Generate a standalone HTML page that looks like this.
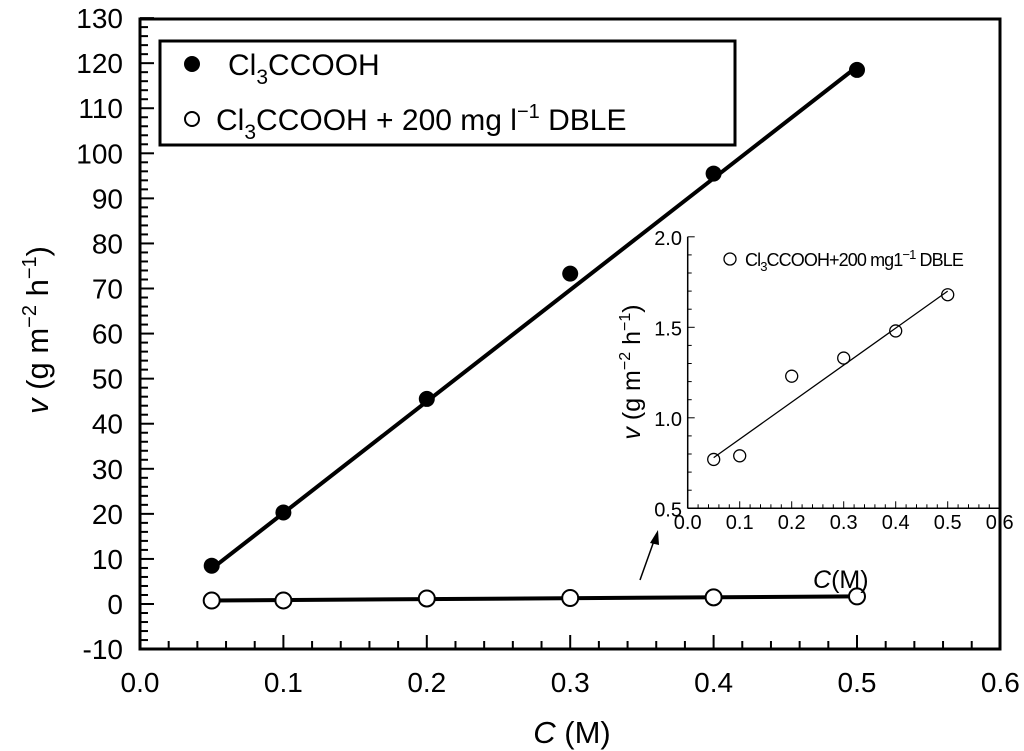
<!DOCTYPE html>
<html><head><meta charset="utf-8"><style>
body{margin:0;background:#fff}
svg{display:block;font-family:"Liberation Sans",sans-serif}
</style></head><body>
<svg id="c" width="1024" height="751" viewBox="0 0 1024 751"></svg>
<script>
const xs=[0.05,0.1,0.2,0.3,0.4,0.5];
const filledV=[8.5,20.3,45.5,73.3,95.5,118.5];
const openV=[0.77,0.79,1.23,1.33,1.48,1.68];
const fitFilled=[7.8,119.2];
const fitOpen=[0.78,1.70];
const xTicks=[0.0,0.1,0.2,0.3,0.4,0.5,0.6];
const yTicks=[-10,0,10,20,30,40,50,60,70,80,90,100,110,120,130];
const inXTicks=[0.0,0.1,0.2,0.3,0.4,0.5,0.6];
const inYTicks=[0.5,1.0,1.5,2.0];

const S=document.getElementById('c');const NS='http://www.w3.org/2000/svg';
function mk(t,a,txt){const e=document.createElementNS(NS,t);for(const k in a)e.setAttribute(k,a[k]);if(txt!==undefined)e.textContent=txt;S.appendChild(e);return e;}
const X=v=>140+v/0.1*143.4, Y=v=>604-v*4.507;
const iX=v=>687.7+v/0.1*52, iY=v=>508.3-(v-0.5)/0.5*90.5;

let e=mk('rect',{x:140,y:19,width:1000-140,height:649-19,fill:'none',stroke:'#000','stroke-width':3});

for(let v=-10;v<=130.01;v+=2){const maj=Math.abs(v%10)<0.01;mk('line',{x1:140,x2:140+(maj?14:8),y1:Y(v),y2:Y(v),stroke:'#000','stroke-width':2});}
for(let v=0;v<=0.6001;v+=0.02){const maj=Math.abs(Math.round(v*100)%10)<0.5;mk('line',{x1:X(v),x2:X(v),y1:649,y2:649-(maj?14:8),stroke:'#000','stroke-width':2});}
yTicks.forEach(v=>{e=mk('text',{x:123,y:Y(v)+10,'text-anchor':'end','font-size':28},String(v));});
xTicks.forEach(v=>{e=mk('text',{x:X(v),y:692,'text-anchor':'middle','font-size':28},v.toFixed(1));});
e=mk('text',{x:572,y:743,'text-anchor':'middle','font-size':31});e.innerHTML='<tspan font-style="italic">C</tspan> (M)';

e=mk('text',{transform:'translate(48,330) rotate(-90)','text-anchor':'middle','font-size':31});
e.innerHTML='<tspan font-style="italic">v</tspan> (g m<tspan dy="-12" font-size="20">−2</tspan><tspan dy="12"> h</tspan><tspan dy="-12" font-size="20">−1</tspan><tspan dy="12">)</tspan>';


e=mk('line',{x1:X(0.05),y1:Y(fitFilled[0]),x2:X(0.5),y2:Y(fitFilled[1]),stroke:'#000','stroke-width':4});

e=mk('line',{x1:X(0.05),y1:Y(fitOpen[0]),x2:X(0.5),y2:Y(fitOpen[1]),stroke:'#000','stroke-width':4});

xs.forEach((x,i)=>{e=mk('circle',{cx:X(x),cy:Y(filledV[i]),r:8,fill:'#000'});});
xs.forEach((x,i)=>{e=mk('circle',{cx:X(x),cy:Y(openV[i]),r:8,fill:'#fff',stroke:'#000','stroke-width':2});});

e=mk('rect',{x:160,y:41,width:575,height:104,fill:'#fff',stroke:'#000','stroke-width':3});

e=mk('circle',{cx:192,cy:64,r:8,fill:'#000'});
e=mk('text',{x:228,y:75,'font-size':30});e.innerHTML='Cl<tspan dy="9" font-size="21">3</tspan><tspan dy="-9">CCOOH</tspan>';

e=mk('circle',{cx:192,cy:119,r:7,fill:'#fff',stroke:'#000','stroke-width':2});
e=mk('text',{x:216,y:130,'font-size':30});e.innerHTML='Cl<tspan dy="9" font-size="21">3</tspan><tspan dy="-9">CCOOH + 200 mg l</tspan><tspan dy="-12" font-size="20">−1</tspan><tspan dy="12"> DBLE</tspan>';


// inset
mk('line',{x1:687.7,y1:iY(2.0),x2:687.7,y2:508.3,stroke:'#000','stroke-width':1.5});
mk('line',{x1:687.7,y1:508.3,x2:iX(0.6),y2:508.3,stroke:'#000','stroke-width':1.5});
for(let v=0.5;v<=2.001;v+=0.1){const maj=Math.abs(Math.round(v*10)%5)<0.5;mk('line',{x1:687.7,x2:687.7+(maj?7:4),y1:iY(v),y2:iY(v),stroke:'#000','stroke-width':1});}
for(let v=0;v<=0.6001;v+=0.02){const maj=Math.abs(Math.round(v*100)%10)<0.5;mk('line',{x1:iX(v),x2:iX(v),y1:508.3,y2:508.3-(maj?7:4),stroke:'#000','stroke-width':1});}
inYTicks.forEach(v=>{e=mk('text',{x:682,y:iY(v)+8,'text-anchor':'end','font-size':20},v.toFixed(1));});
inXTicks.forEach(v=>{e=mk('text',{x:iX(v),y:529,'text-anchor':'middle','font-size':20},v.toFixed(1));});
e=mk('text',{transform:'translate(640,372) rotate(-90)','text-anchor':'middle','font-size':25});
e.innerHTML='<tspan font-style="italic">v</tspan> (g m<tspan dy="-10" font-size="16">−2</tspan><tspan dy="10"> h</tspan><tspan dy="-10" font-size="16">−1</tspan><tspan dy="10">)</tspan>';

e=mk('line',{x1:iX(0.05),y1:iY(fitOpen[0]),x2:iX(0.5),y2:iY(fitOpen[1]),stroke:'#000','stroke-width':1.3});

xs.forEach((x,i)=>{e=mk('circle',{cx:iX(x),cy:iY(openV[i]),r:6,fill:'none',stroke:'#000','stroke-width':1.3});});
e=mk('circle',{cx:730,cy:259,r:6,fill:'none',stroke:'#000','stroke-width':1.3});
e=mk('text',{x:745,y:266,'font-size':18,'letter-spacing':'-0.9'});e.innerHTML='Cl<tspan dy="5" font-size="13">3</tspan><tspan dy="-5">CCOOH+200 mg1</tspan><tspan dy="-7" font-size="13">−1</tspan><tspan dy="7"> DBLE</tspan>';

e=mk('line',{x1:640,y1:580,x2:655,y2:538,stroke:'#000','stroke-width':1.5});
mk('polygon',{points:'658,530 650,543 659,545',fill:'#000'});
e=mk('text',{x:813,y:588,'font-size':25});e.innerHTML='<tspan font-style="italic">C</tspan>(M)';

</script>
</body></html>
